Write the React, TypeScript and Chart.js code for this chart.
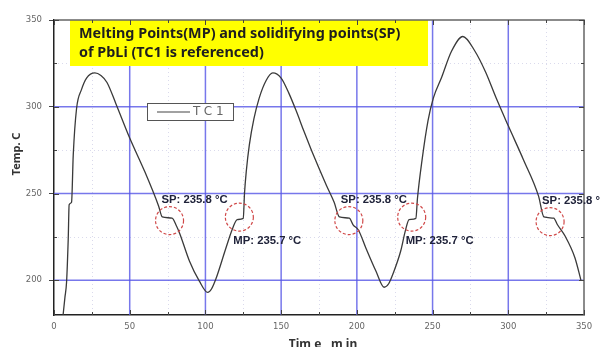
import React, { useEffect, useRef } from "react";
import { Chart, registerables } from "chart.js";

Chart.register(...registerables);

// ---- data ----
const timeMin: number[] = [
  6, 7.2, 8.3, 9.4, 10, 11.6, 12.7, 14.9, 18.2, 21.5, 27, 31, 35, 41, 50, 60, 69, 71.5, 78, 80.5,
  83, 89.5, 96, 101.5, 104, 107, 113.5, 118, 121, 125, 125.8, 127, 129, 132, 135.5, 140, 144.5, 150,
  155, 160, 165, 170, 175, 180, 185, 188.5, 195, 197.5, 201, 206, 212.5, 218, 221, 224, 229, 232, 234.5, 239,
  240, 243, 247, 250.5, 256, 262.5, 270, 278, 285, 292, 300, 310, 320, 323.5, 330, 332.5, 337.5, 344, 348,
];
const tempC: number[] = [
  180, 190, 199, 224, 243.5, 245, 272, 299, 310, 316.5, 319.5, 318, 314, 301.5, 282, 262.5, 243, 236.5, 235.8, 232,
  227, 211, 199.5, 193, 195, 201, 218.5, 230, 235, 235.7, 250, 263, 278, 293, 305, 315, 319.5, 316.5,
  308, 297.5, 286, 275, 264.5, 254.5, 245, 236.5, 235.8, 232, 229, 218.5, 205.5, 196, 198, 204, 217, 228.5, 235, 235.7,
  247, 269, 292, 305, 317, 332, 340.5, 332, 320, 305, 289, 269.5, 248.5, 236.5, 235.8, 232, 225.5, 213, 200,
];
const xTicks: number[] = [0, 25, 50, 75, 100, 125, 150, 175, 200, 225, 250, 275, 300, 325, 350];
const yTicks: number[] = [200, 225, 250, 275, 300, 325, 350];
const seriesName = "TC1";
const titleLines: string[] = ["Melting Points(MP) and solidifying points(SP)", "of PbLi (TC1 is referenced)"];
const markKind: string[] = ["SP", "MP", "SP", "MP", "SP"];
const markTime: number[] = [76.3, 122.4, 194.7, 236.2, 327.6];
const markTemp: number[] = [234.4, 236.4, 234.4, 236.4, 233.8];
const markLabel: string[] = ["SP: 235.8 \u00B0C", "MP: 235.7 \u00B0C", "SP: 235.8 \u00B0C", "MP: 235.7 \u00B0C", "SP: 235.8 \u00B0C"];
const xTitle = "Tim e , m in";
const yTitle = "Temp. C";

const MAJOR = "rgba(85,85,230,0.8)";

const overlay = {
  id: "overlay",
  beforeDatasetsDraw(chart: any) {
    const { ctx, chartArea: a, scales } = chart;
    const xs = scales.x, ys = scales.y;
    ctx.save();
    // minor dotted grid
    ctx.strokeStyle = "rgba(150,150,200,0.35)";
    ctx.lineWidth = 1;
    ctx.setLineDash([1, 3]);
    xTicks.filter((v) => v % 50 !== 0).forEach((v) => {
      const px = Math.round(xs.getPixelForValue(v)) + 0.5;
      ctx.beginPath(); ctx.moveTo(px, a.top); ctx.lineTo(px, a.bottom); ctx.stroke();
    });
    yTicks.filter((v) => v % 50 !== 0).forEach((v) => {
      const py = Math.round(ys.getPixelForValue(v)) + 0.5;
      ctx.beginPath(); ctx.moveTo(a.left, py); ctx.lineTo(a.right, py); ctx.stroke();
    });
    ctx.setLineDash([]);
    // major grid
    ctx.strokeStyle = MAJOR;
    ctx.lineWidth = 1.5;
    xTicks.filter((v) => v % 50 === 0 && v !== 0 && v !== 350).forEach((v) => {
      const px = xs.getPixelForValue(v);
      ctx.beginPath(); ctx.moveTo(px, a.top); ctx.lineTo(px, a.bottom); ctx.stroke();
    });
    yTicks.filter((v) => v % 50 === 0 && v !== 350).forEach((v) => {
      const py = ys.getPixelForValue(v);
      ctx.beginPath(); ctx.moveTo(a.left, py); ctx.lineTo(a.right, py); ctx.stroke();
    });
    // yellow title box
    ctx.fillStyle = "#ffff00";
    ctx.fillRect(70, a.top, 358, 46);
    // top & right border
    ctx.strokeStyle = "#666";
    ctx.lineWidth = 1.5;
    ctx.beginPath();
    ctx.moveTo(a.left, a.top); ctx.lineTo(a.right, a.top); ctx.lineTo(a.right, a.bottom);
    ctx.stroke();
    // inward ticks
    ctx.strokeStyle = "#444";
    ctx.lineWidth = 1;
    xTicks.forEach((v) => {
      const px = Math.round(xs.getPixelForValue(v)) + 0.5;
      const l = v % 50 === 0 ? 5 : 3;
      ctx.beginPath(); ctx.moveTo(px, a.bottom); ctx.lineTo(px, a.bottom - l); ctx.stroke();
      ctx.beginPath(); ctx.moveTo(px, a.top); ctx.lineTo(px, a.top + l); ctx.stroke();
    });
    yTicks.forEach((v) => {
      const py = Math.round(ys.getPixelForValue(v)) + 0.5;
      const l = v % 50 === 0 ? 5 : 3;
      ctx.beginPath(); ctx.moveTo(a.left, py); ctx.lineTo(a.left + l, py); ctx.stroke();
      ctx.beginPath(); ctx.moveTo(a.right, py); ctx.lineTo(a.right - l, py); ctx.stroke();
    });
    ctx.restore();
  },
  afterDatasetsDraw(chart: any) {
    const { ctx, chartArea: a, scales } = chart;
    const xs = scales.x, ys = scales.y;
    ctx.save();
    // title text
    ctx.fillStyle = "#1e1e1e";
    ctx.font = "bold 14.4px 'Noto Sans'";
    ctx.textBaseline = "middle";
    ctx.textAlign = "left";
    ctx.fillText(titleLines[0], 79, a.top + 14);
    ctx.fillText(titleLines[1], 79, a.top + 33);
    // legend
    ctx.fillStyle = "#fff";
    ctx.fillRect(147, 103, 86, 17);
    ctx.strokeStyle = "#555";
    ctx.lineWidth = 1;
    ctx.strokeRect(147.5, 103.5, 86, 17);
    ctx.strokeStyle = "#444";
    ctx.lineWidth = 1.2;
    ctx.beginPath(); ctx.moveTo(157, 112); ctx.lineTo(190, 112); ctx.stroke();
    ctx.fillStyle = "#666";
    ctx.font = "12px 'DejaVu Sans'";
    (ctx as any).letterSpacing = "4px";
    ctx.fillText(seriesName, 193, 112);
    (ctx as any).letterSpacing = "0px";
    // circles & labels
    markTime.forEach((t, i) => {
      const cx = xs.getPixelForValue(t);
      const cy = ys.getPixelForValue(markTemp[i]);
      ctx.strokeStyle = "#d04848";
      ctx.lineWidth = 1.2;
      ctx.setLineDash([3, 2]);
      ctx.beginPath(); ctx.arc(cx, cy, 14, 0, Math.PI * 2); ctx.stroke();
      ctx.setLineDash([]);
      ctx.fillStyle = "#20233a";
      ctx.font = "bold 11.3px 'Liberation Sans'";
      ctx.textBaseline = "middle";
      if (markKind[i] === "SP") ctx.fillText(markLabel[i], cx - 8, cy - 21);
      else ctx.fillText(markLabel[i], cx - 6, cy + 24);
    });
    ctx.restore();
  },
  afterDraw(chart: any) {
    const { ctx } = chart;
    ctx.save();
    ctx.fillStyle = "#333";
    ctx.textAlign = "center";
    ctx.textBaseline = "middle";
    ctx.font = "bold 12px 'Noto Sans'";
    ctx.fillText(xTitle, 323, 345);
    ctx.font = "bold 11px 'Noto Sans'";
    ctx.translate(17, 154);
    ctx.rotate(-Math.PI / 2);
    ctx.fillText(yTitle, 0, 0);
    ctx.restore();
  },
};

export default function App() {
  const ref = useRef<HTMLCanvasElement>(null);
  useEffect(() => {
    document.body.style.margin = "0";
    const points = timeMin.map((t, i) => ({ x: t, y: tempC[i] }));
    const chart = new Chart(ref.current!, {
      type: "line",
      data: {
        datasets: [
          {
            label: seriesName,
            data: points,
            borderColor: "#3a3a3a",
            borderWidth: 1.3,
            pointRadius: 0,
            cubicInterpolationMode: "monotone",
            fill: false,
          },
        ],
      },
      options: {
        animation: false,
        responsive: false,
        devicePixelRatio: 1,
        layout: { padding: { top: 20, right: 16, left: 0, bottom: 0 } },
        plugins: { legend: { display: false }, tooltip: { enabled: false } },
        scales: {
          x: {
            type: "linear",
            min: 0,
            max: 350,
            afterBuildTicks: (s: any) => { s.ticks = xTicks.map((v) => ({ value: v })); },
            afterFit: (s: any) => { s.height = 32; },
            ticks: {
              autoSkip: false,
              maxRotation: 0,
              padding: 7,
              color: "#666",
              font: { family: "DejaVu Sans", size: 8.5 },
              callback: (v: any) => (Number(v) % 50 === 0 ? String(v) : ""),
            },
            grid: { drawTicks: false, display: true, color: "rgba(0,0,0,0)" },
            border: { color: "#222", width: 1.5 },
          },
          y: {
            type: "linear",
            min: 180,
            max: 350,
            afterBuildTicks: (s: any) => { s.ticks = yTicks.map((v) => ({ value: v })); },
            afterFit: (s: any) => { s.width = 54; },
            ticks: {
              autoSkip: false,
              padding: 7,
              color: "#666",
              font: { family: "DejaVu Sans", size: 8.5 },
              callback: (v: any) => (Number(v) % 50 === 0 ? String(v) : ""),
            },
            grid: {
              drawTicks: true,
              tickLength: 5,
              tickColor: (c: any) => (c.tick?.value % 50 === 0 ? "#444" : "rgba(0,0,0,0)"),
              color: "rgba(0,0,0,0)",
            },
            border: { color: "#222", width: 1.5 },
          },
        },
      },
      plugins: [overlay],
    });
    return () => chart.destroy();
  }, []);
  return (
    <div style={{ position: "fixed", left: 0, top: 0, width: 600, height: 347, background: "#fff" }}>
      <canvas ref={ref} width={600} height={347} />
    </div>
  );
}
